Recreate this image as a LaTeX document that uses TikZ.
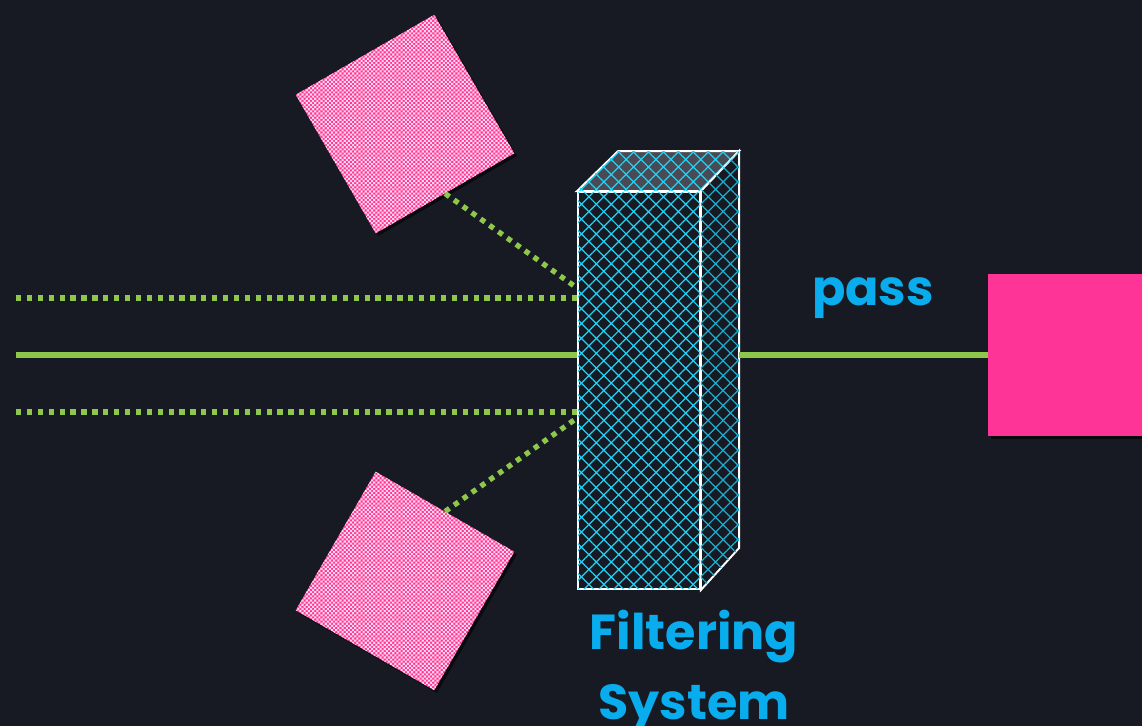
\documentclass[tikz,border=0pt]{standalone}
\usepackage{fontspec}
\setmainfont{Poppins}
\usepackage{tikz}
\usetikzlibrary{positioning,patterns,patterns.meta,shadows}
\definecolor{bgc}{HTML}{171923}
\definecolor{beam}{HTML}{8DC84B}
\definecolor{mesh}{HTML}{1FD3F7}
\definecolor{meshdark}{HTML}{1AAFCF}
\definecolor{lid}{HTML}{4A4A54}
\definecolor{hot}{HTML}{FF3497}
\definecolor{cyantext}{HTML}{09ADEE}
% fine pink/white checker for the rejected items
\pgfdeclarepatternformonly{finecheck}{\pgfqpoint{-.05pt}{-.05pt}}{\pgfqpoint{2.45pt}{2.45pt}}{\pgfqpoint{2.4pt}{2.4pt}}{%
  \pgfpathrectangle{\pgfpointorigin}{\pgfqpoint{1.2pt}{1.2pt}}%
  \pgfpathrectangle{\pgfqpoint{1.2pt}{1.2pt}}{\pgfqpoint{1.2pt}{1.2pt}}%
  \pgfusepath{fill}}

\begin{document}
\begin{tikzpicture}[x=0.02cm,y=-0.02cm,
  beamline/.style={beam,line width=3pt},
  dotbeam/.style={beam,line width=3pt,dash pattern=on 3pt off 3.2pt},
  face/.style={draw=white,line width=1.1pt},
  meshfill/.style={postaction={pattern={Hatch[angle=45,distance=6pt,line width=0.7pt]},pattern color=#1}},
  shade/.style={drop shadow={fill=black,opacity=0.6,shadow xshift=1.5pt,shadow yshift=-1.5pt}},
  blocked/.style={fill=hot,postaction={pattern=finecheck,pattern color=white!80!hot},
    minimum size=3.2cm,inner sep=0pt,shade},
  lbl/.style={text=cyantext,font=\bfseries\fontsize{28}{34}\selectfont}]
  % background
  \fill[bgc] (0,0) rectangle (1142,726);
  \useasboundingbox (0,0) rectangle (1142,726);

  % filter block: front, top and side faces
  \node[face,fill=bgc,meshfill=mesh,minimum width=2.44cm,minimum height=7.94cm,inner sep=0pt]
    (front) at (639,390.5) {};
  \draw[face,fill=lid,meshfill=mesh] (front.north west) -- ++(41,-40)
    -- ++(121,0) coordinate (topback) -- (front.north east) -- cycle;
  \draw[face,fill=bgc,meshfill=meshdark] (front.north east) -- (topback)
    -- ++(0,397) coordinate (sideback) -- (front.south east) -- cycle;

  % incoming beams, hitting the front face
  \foreach \nm/\y/\sty in {upper/298/dotbeam,axis/355/beamline,lower/412/dotbeam} {
    \coordinate (\nm) at (16,\y);
    \draw[\sty] (\nm) -- (\nm -| front.west);
  }

  % rejected items, tilted
  \foreach \nm/\cx/\cy/\ang in {sqtop/405/124/30,sqbot/405/581/-30}
    \node[blocked,rotate=\ang] (\nm) at (\cx,\cy) {};
  \draw[dotbeam] (sqtop.south) -- (front.west |- 0,288);
  \draw[dotbeam] (sqbot.north) -- (front.west |- 0,418);

  % passed item
  \node[fill=hot,minimum width=3.4cm,minimum height=3.24cm,inner sep=0pt,anchor=west,shade]
    (dest) at (988,355) {};
  \draw[beamline] (axis -| topback) -- (dest.west);

  % labels
  \node[lbl,anchor=base] (passlbl) at (873,305) {pass};
  \node[lbl,anchor=base] (filt) at (694,649) {Filtering};
  \node[lbl,anchor=base] (syst) at (694,719) {System};
\end{tikzpicture}
\end{document}
